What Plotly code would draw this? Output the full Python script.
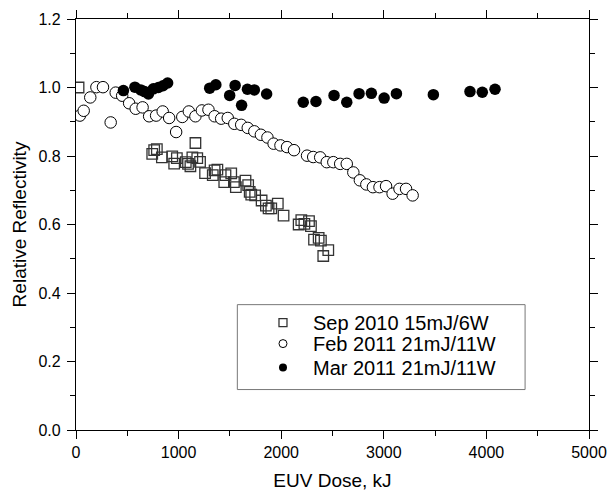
import plotly.graph_objects as go

sep_x = [25, 743, 762, 788, 837, 938, 957, 983, 1070, 1092, 1115, 1134, 1164, 1182, 1209,
         1258, 1333, 1351, 1378, 1445, 1457, 1513, 1539, 1558, 1652, 1678, 1693, 1708, 1746,
         1809, 1851, 1877, 1903, 1967, 2023, 2170, 2196, 2226, 2271, 2290, 2320, 2365, 2387,
         2410, 2459]
sep_y = [1.0, 0.806, 0.817, 0.820, 0.796, 0.799, 0.778, 0.794, 0.782, 0.777, 0.770, 0.796,
         0.838, 0.794, 0.783, 0.750, 0.744, 0.758, 0.760, 0.724, 0.744, 0.749, 0.724, 0.709,
         0.728, 0.715, 0.695, 0.687, 0.685, 0.670, 0.655, 0.647, 0.647, 0.661, 0.626, 0.600,
         0.613, 0.602, 0.610, 0.595, 0.556, 0.561, 0.553, 0.508, 0.525]

feb_x = [38, 75, 139, 199, 263, 338, 387, 450, 518, 582, 649, 713, 781, 845, 908, 976, 1036,
         1100, 1164, 1227, 1291, 1351, 1415, 1479, 1543, 1610, 1674, 1738, 1802, 1866, 1926,
         1993, 2057, 2125, 2252, 2312, 2380, 2444, 2508, 2575, 2639, 2703, 2767, 2830, 2894,
         2958, 3022, 3086, 3153, 3217, 3281]
feb_y = [0.918, 0.932, 0.971, 1.001, 1.001, 0.898, 0.985, 0.976, 0.954, 0.938, 0.942, 0.916,
         0.918, 0.930, 0.911, 0.870, 0.914, 0.930, 0.916, 0.933, 0.935, 0.916, 0.909, 0.911,
         0.894, 0.891, 0.882, 0.872, 0.862, 0.854, 0.836, 0.831, 0.826, 0.817, 0.801, 0.797,
         0.796, 0.782, 0.782, 0.777, 0.777, 0.752, 0.729, 0.717, 0.709, 0.709, 0.712, 0.690,
         0.704, 0.704, 0.685]

mar_x = [462, 574, 631, 668, 706, 754, 803, 848, 893, 1303, 1363, 1498, 1551, 1614, 1671,
         1738, 1858, 2215, 2339, 2515, 2639, 2759, 2879, 3003, 3123, 3483, 3840, 3960, 4084]
mar_y = [0.991, 1.001, 0.993, 0.988, 0.981, 0.996, 1.000, 1.005, 1.013, 0.998, 1.008, 0.977,
         1.006, 0.948, 0.995, 0.993, 0.981, 0.957, 0.959, 0.977, 0.957, 0.982, 0.983, 0.969,
         0.982, 0.979, 0.988, 0.986, 0.995]

names = ["Sep 2010 15mJ/6W", "Feb 2011 21mJ/11W", "Mar 2011 21mJ/11W"]

FONT = "Liberation Sans, Arial, sans-serif"

sq_style = dict(symbol="square-open", color="#333333", line=dict(width=1.3, color="#333333"))
oc_style = dict(symbol="circle", color="white", line=dict(width=1, color="black"))
fc_style = dict(symbol="circle", color="black", line=dict(width=0, color="black"))

fig = go.Figure()
fig.add_trace(go.Scatter(x=sep_x, y=sep_y, mode="markers", name=names[0], showlegend=False,
                         marker=dict(size=10.5, **sq_style)))
fig.add_trace(go.Scatter(x=feb_x, y=feb_y, mode="markers", name=names[1], showlegend=False,
                         marker=dict(size=11.5, **oc_style)))
fig.add_trace(go.Scatter(x=mar_x, y=mar_y, mode="markers", name=names[2], showlegend=False,
                         marker=dict(size=11.5, **fc_style)))

# legend entries (smaller symbols, as in the original legend), one legend per row
legend_ids = ["legend", "legend2", "legend3"]
legend_rows_y = [0.2612, 0.2102, 0.1519]
for nm, st, lid in zip(names, [sq_style, oc_style, fc_style], legend_ids):
    fig.add_trace(go.Scatter(x=[None], y=[None], mode="markers", name=nm, legend=lid,
                             marker=dict(size=8, **st)))

axis_common = dict(showline=True, linecolor="black", linewidth=1.3, mirror="allticks",
                   ticks="outside", ticklen=8, tickwidth=1.3, tickcolor="black", showgrid=False,
                   zeroline=False, automargin=False,
                   tickfont=dict(family=FONT, size=16, color="black"))

fig.update_xaxes(range=[0, 5000], tick0=0, dtick=1000, tickformat="d",
                 minor=dict(ticks="outside", ticklen=5, dtick=500, tickcolor="black", tickwidth=1.3),
                 title=dict(text="EUV Dose, kJ", font=dict(family=FONT, size=19, color="black"),
                            standoff=13),
                 **axis_common)
fig.update_yaxes(range=[0, 1.2], tick0=0, dtick=0.2, tickformat=".1f",
                 minor=dict(ticks="outside", ticklen=5, dtick=0.1, tickcolor="black", tickwidth=1.3),
                 title=dict(text="Relative Reflectivity", font=dict(family=FONT, size=19, color="black"),
                            standoff=6),
                 ticklabelstandoff=3,
                 **axis_common)

fig.add_shape(type="rect", xref="paper", yref="paper", x0=0.3145, x1=0.8754, y0=0.0984, y1=0.305,
              line=dict(color="#777777", width=1), fillcolor="rgba(0,0,0,0)")

legend_common = dict(xanchor="left", yanchor="middle", bgcolor="rgba(0,0,0,0)", borderwidth=0,
                     font=dict(family=FONT, size=20, color="black"),
                     itemwidth=50, tracegroupgap=0, itemsizing="trace")

fig.update_layout(
    width=607, height=493,
    margin=dict(l=75.5, r=18, t=19, b=62.5),
    paper_bgcolor="white", plot_bgcolor="white",
    font=dict(family=FONT, color="black"),
    legend=dict(x=0.345, y=legend_rows_y[0], **legend_common),
    legend2=dict(x=0.345, y=legend_rows_y[1], **legend_common),
    legend3=dict(x=0.345, y=legend_rows_y[2], **legend_common),
    showlegend=True,
)

fig.write_html("out.html", config={"displayModeBar": False},
               post_script="document.body.style.margin='0';document.body.style.overflow='hidden';")
